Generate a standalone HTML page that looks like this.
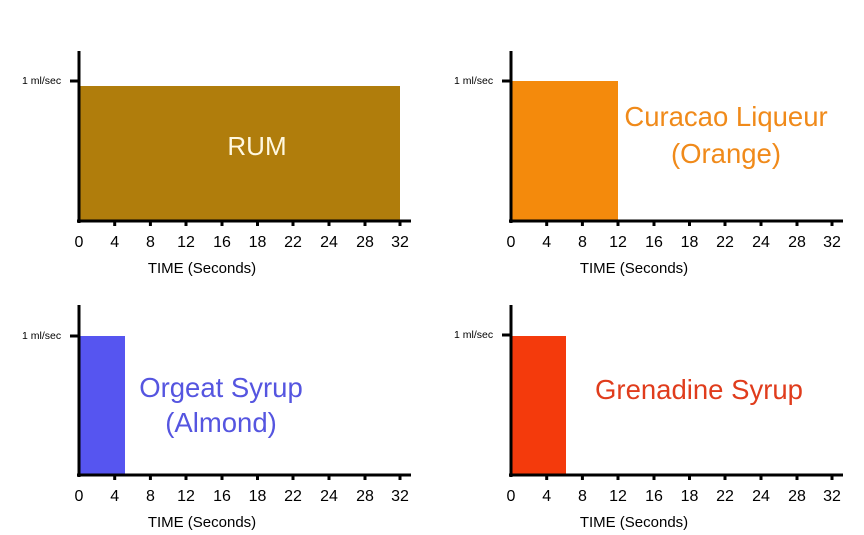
<!DOCTYPE html>
<html><head><meta charset="utf-8"><style>
html,body{margin:0;padding:0;background:#fff;}
svg{display:block;}
text{font-family:"Liberation Sans",sans-serif;}
</style></head><body>
<svg width="864" height="535" viewBox="0 0 864 535" xmlns="http://www.w3.org/2000/svg">
<defs>
<g id="ax">
  <line x1="0" y1="-170" x2="0" y2="2" stroke="#000" stroke-width="3"/>
  <line x1="-2" y1="0" x2="332" y2="0" stroke="#000" stroke-width="3"/>
  <g stroke="#000" stroke-width="3">
    <line x1="35.7" y1="0" x2="35.7" y2="5"/><line x1="71.4" y1="0" x2="71.4" y2="5"/>
    <line x1="107" y1="0" x2="107" y2="5"/><line x1="143" y1="0" x2="143" y2="5"/>
    <line x1="178.5" y1="0" x2="178.5" y2="5"/><line x1="214" y1="0" x2="214" y2="5"/>
    <line x1="250" y1="0" x2="250" y2="5"/><line x1="286" y1="0" x2="286" y2="5"/>
    <line x1="321" y1="0" x2="321" y2="5"/>
  </g>
  <g font-size="16" text-anchor="middle" fill="#000">
    <text x="0" y="26">0</text><text x="35.7" y="26">4</text><text x="71.4" y="26">8</text>
    <text x="107" y="26">12</text><text x="143" y="26">16</text><text x="178.5" y="26">18</text>
    <text x="214" y="26">22</text><text x="250" y="26">24</text><text x="286" y="26">28</text>
    <text x="321" y="26">32</text>
    <text x="123" y="52" font-size="15">TIME (Seconds)</text>
  </g>
</g>
</defs>

<!-- Panel 1 -->
<rect x="80" y="86" width="320" height="134" fill="#b07d0c"/>
<g transform="translate(79,221)"><use href="#ax"/></g>
<line x1="70" y1="81" x2="79" y2="81" stroke="#000" stroke-width="3"/>
<text x="22" y="84" font-size="10.5">1 ml/sec</text>
<text x="257" y="155" font-size="26" fill="#fff8e0" text-anchor="middle">RUM</text>

<!-- Panel 2 -->
<rect x="512" y="81" width="106" height="139" fill="#f48a0c"/>
<g transform="translate(511,221)"><use href="#ax"/></g>
<line x1="502" y1="81" x2="511" y2="81" stroke="#000" stroke-width="3"/>
<text x="454" y="84" font-size="10.5">1 ml/sec</text>
<text x="726" y="126" font-size="27.5" fill="#f08a1a" text-anchor="middle">Curacao Liqueur</text>
<text x="726" y="163" font-size="27.5" fill="#f08a1a" text-anchor="middle">(Orange)</text>

<!-- Panel 3 -->
<rect x="80" y="336" width="45" height="138" fill="#5655f0"/>
<g transform="translate(79,475)"><use href="#ax"/></g>
<line x1="70" y1="336" x2="79" y2="336" stroke="#000" stroke-width="3"/>
<text x="22" y="339" font-size="10.5">1 ml/sec</text>
<text x="221" y="397" font-size="27.5" fill="#5555e0" text-anchor="middle">Orgeat Syrup</text>
<text x="221" y="432" font-size="27.5" fill="#5555e0" text-anchor="middle">(Almond)</text>

<!-- Panel 4 -->
<rect x="512" y="336" width="54" height="138" fill="#f43a0c"/>
<g transform="translate(511,475)"><use href="#ax"/></g>
<line x1="502" y1="335" x2="511" y2="335" stroke="#000" stroke-width="3"/>
<text x="454" y="338" font-size="10.5">1 ml/sec</text>
<text x="699" y="399" font-size="27.5" fill="#e03c1c" text-anchor="middle">Grenadine Syrup</text>
</svg>
</body></html>
